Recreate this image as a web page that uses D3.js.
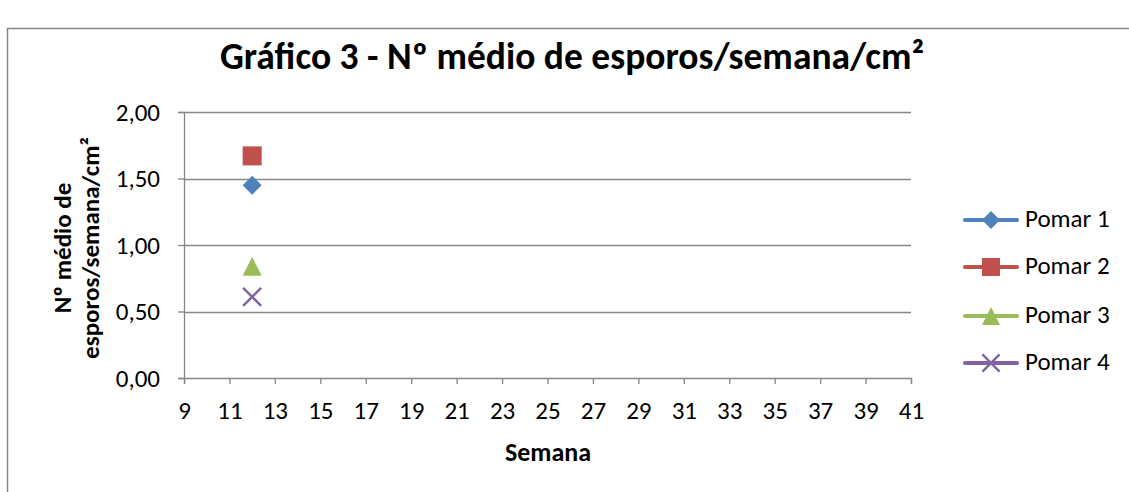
<!DOCTYPE html>
<html><head><meta charset="utf-8">
<script src="https://cdn.jsdelivr.net/npm/d3@7"></script>
<style>body{margin:0;background:#fff}svg{display:block}</style>
</head><body><div id="c"></div>
<script>
const series = ["Pomar 1","Pomar 2","Pomar 3","Pomar 4"];
const weeks = [12];
const pomar1 = [1.45];
const pomar2 = [1.67];
const pomar3 = [0.84];
const pomar4 = [0.61];
const colors = ["#4F81BD","#C0504D","#9BBB59","#8064A2"];
const symbols = ["diamond","square","triangle","cross"];
const xTicks = [9,11,13,15,17,19,21,23,25,27,29,31,33,35,37,39,41];
const yTicks = [0, 0.5, 1, 1.5, 2];
const title = "Gráfico 3 - Nº médio de esporos/semana/cm²";
const yLabel = ["Nº  médio de", "esporos/semana/cm²"];
const xLabel = "Semana";

const values = [pomar1, pomar2, pomar3, pomar4];
const W = 1129, H = 492;
const font = "Carlito, Lato, 'Open Sans', sans-serif";
const svg = d3.select("#c").append("svg").attr("width", W).attr("height", H);
svg.append("rect").attr("x", 7.5).attr("y", 28.5).attr("width", W + 10).attr("height", H + 10)
  .attr("fill", "#fff").attr("stroke", "#868686").attr("stroke-width", 1.5);

const x = d3.scaleLinear().domain([9, 41]).range([184, 911]);
const y = d3.scaleLinear().domain([0, 2]).range([378, 112]);

svg.append("text").attr("x", 572).attr("y", 69).attr("text-anchor", "middle")
  .attr("font-family", font).attr("font-weight", "bold").attr("font-size", 37.5).text(title);

// gridlines
svg.append("g").selectAll("line").data(yTicks.filter(d => d > 0)).join("line")
  .attr("x1", x(9)).attr("x2", x(41)).attr("y1", d => Math.round(y(d)) + 0.5).attr("y2", d => Math.round(y(d)) + 0.5)
  .attr("stroke", "#868686").attr("stroke-width", 1.3);

const fmt = d => d3.format(".2f")(d).replace(".", ",");
const yAxis = svg.append("g").attr("transform", `translate(${x(9)},0)`)
  .call(d3.axisLeft(y).tickValues(yTicks).tickFormat(fmt).tickSize(6).tickPadding(18));
const xAxis = svg.append("g").attr("transform", `translate(0,${y(0)})`)
  .call(d3.axisBottom(x).tickValues(xTicks).tickFormat(d3.format("d")).tickSize(6).tickPadding(17));
[yAxis, xAxis].forEach(a => {
  a.selectAll("path").attr("stroke", "#868686").attr("stroke-width", 1.3);
  a.selectAll("line").attr("stroke", "#868686").attr("stroke-width", 1.3);
  a.selectAll("text").attr("font-family", font).attr("font-size", 25).attr("fill", "#000");
});

svg.append("text").attr("x", 548).attr("y", 461).attr("text-anchor", "middle")
  .attr("font-family", font).attr("font-weight", "bold").attr("font-size", 26).text(xLabel);

const yl = svg.append("text").attr("transform", `translate(71,248) rotate(-90)`).attr("text-anchor", "middle")
  .attr("font-family", font).attr("font-weight", "bold").attr("font-size", 25);
yl.append("tspan").attr("x", 0).attr("dy", 0).text(yLabel[0]);
yl.append("tspan").attr("x", 0).attr("dy", 28).text(yLabel[1]);

function marker(g, i, s) {
  const c = colors[i];
  const h = s / 2;
  if (symbols[i] === "diamond") {
    g.append("path").attr("d", `M0,${-h}L${h},0L0,${h}L${-h},0Z`).attr("fill", c);
  } else if (symbols[i] === "square") {
    g.append("rect").attr("x", -h).attr("y", -h).attr("width", s).attr("height", s).attr("fill", c);
  } else if (symbols[i] === "triangle") {
    g.append("path").attr("d", `M0,${-h}L${h},${h}L${-h},${h}Z`).attr("fill", c);
  } else {
    const k = h * 0.95;
    g.append("path").attr("d", `M${-k},${-k}L${k},${k}M${-k},${k}L${k},${-k}`).attr("stroke", c).attr("stroke-width", 2.4).attr("fill", "none");
  }
}

values.forEach((vals, i) => {
  vals.forEach((v, j) => {
    const g = svg.append("g").attr("transform", `translate(${x(weeks[j])},${y(v)})`);
    marker(g, i, 19);
  });
});

// legend
const ly = [220, 267, 316, 363];
series.forEach((s, i) => {
  const g = svg.append("g").attr("transform", `translate(0,${ly[i]})`);
  g.append("line").attr("x1", 965).attr("x2", 1017).attr("y1", 0).attr("y2", 0)
    .attr("stroke", colors[i]).attr("stroke-width", 4).attr("stroke-linecap", "round");
  const m = g.append("g").attr("transform", "translate(991,0)");
  marker(m, i, 18);
  g.append("text").attr("x", 1025).attr("y", 7).attr("font-family", font).attr("font-size", 25).text(s);
});
</script></body></html>
